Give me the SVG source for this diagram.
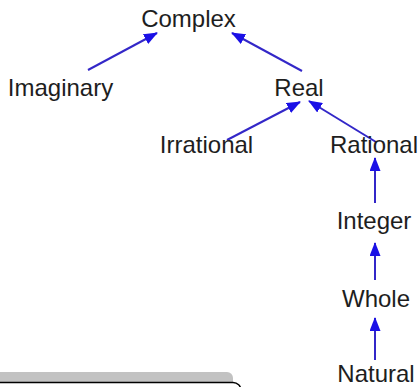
<svg xmlns="http://www.w3.org/2000/svg" width="419" height="387" viewBox="0 0 419 387">
<style>
.lbl{font-family:"Liberation Sans",Arial,sans-serif;font-size:24px;fill:#1e1e1e;text-anchor:middle}
.edge{stroke:#3327c8;stroke-width:2;fill:none;marker-end:url(#ah)}
</style>
<defs>
<marker id="ah" markerUnits="userSpaceOnUse" markerWidth="14" markerHeight="11" viewBox="0 0 14 11" refX="13" refY="5.5" orient="auto">
<path d="M0,0 L14,5.5 L0,11 z" fill="#1a10e6"/>
</marker>
</defs>
<rect width="419" height="387" fill="#ffffff"/>
<g id="panel">
<rect x="-10" y="372" width="243" height="20" rx="6" fill="#c2c2c2"/>
<rect x="-10" y="382.5" width="251" height="30" rx="8" fill="#ffffff" stroke="#000000" stroke-width="1.5"/>
</g>
<g id="connectors">
<line class="edge" x1="88" y1="70" x2="157" y2="33"/>
<line class="edge" x1="302" y1="71" x2="232" y2="33"/>
<line class="edge" x1="227" y1="140" x2="300" y2="102"/>
<line class="edge" x1="376" y1="142" x2="309" y2="101"/>
<line class="edge" x1="375" y1="203" x2="375" y2="158"/>
<line class="edge" x1="375" y1="280" x2="375" y2="243"/>
<line class="edge" x1="375" y1="360" x2="375" y2="318"/>
</g>
<g id="n-complex"><text class="lbl" x="188.5" y="27">Complex</text></g>
<g id="n-imaginary"><text class="lbl" x="60.5" y="96">Imaginary</text></g>
<g id="n-real"><text class="lbl" x="299" y="96">Real</text></g>
<g id="n-irrational"><text class="lbl" x="206.5" y="153">Irrational</text></g>
<g id="n-rational"><text class="lbl" x="374" y="153">Rational</text></g>
<g id="n-integer"><text class="lbl" x="374" y="229">Integer</text></g>
<g id="n-whole"><text class="lbl" x="376" y="307">Whole</text></g>
<g id="n-natural"><text class="lbl" x="376" y="382">Natural</text></g>
</svg>
